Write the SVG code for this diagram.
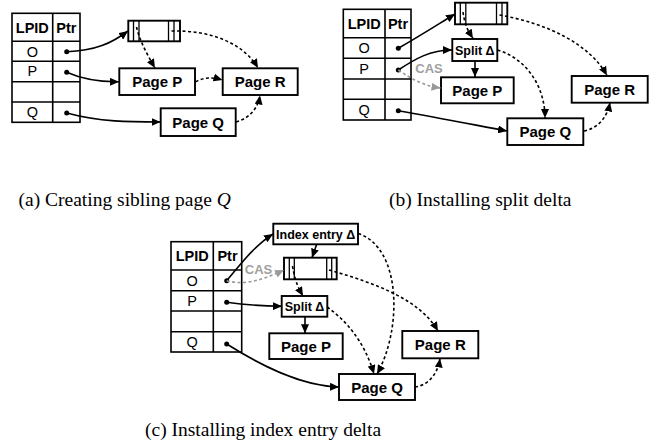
<svg xmlns="http://www.w3.org/2000/svg" width="657" height="443" viewBox="0 0 657 443">
<style>
.bg{fill:#fff}
.box{fill:#fff;stroke:#000;stroke-width:1.9}
.tl{fill:none;stroke:#000;stroke-width:1.6}
.rib{fill:none;stroke:#000;stroke-width:1.3}
.hdr{font-family:"Liberation Sans",Arial,sans-serif;font-weight:bold;font-size:14.5px;text-anchor:middle}
.cell{font-family:"Liberation Sans",Arial,sans-serif;font-size:14.5px;text-anchor:middle}
.pg{font-family:"Liberation Sans",Arial,sans-serif;font-weight:bold;font-size:15px;text-anchor:middle}
.dl{font-family:"Liberation Sans",Arial,sans-serif;font-weight:bold;font-size:12.5px;text-anchor:middle}
.cas{font-family:"Liberation Sans",Arial,sans-serif;font-weight:bold;font-size:13px;fill:#a0a0a0;text-anchor:middle}
.cap{font-family:"Liberation Serif","Times New Roman",serif;font-size:19.5px}
.s{fill:none;stroke:#000;stroke-width:1.6;marker-end:url(#ah)}
.d{fill:none;stroke:#000;stroke-width:1.6;stroke-dasharray:3,2.5;marker-end:url(#ah)}
.g{fill:none;stroke:#999;stroke-width:1.6;stroke-dasharray:3,2.5;marker-end:url(#ahg)}
.dot{fill:#000}
</style>
<defs>
<marker id="ah" markerUnits="userSpaceOnUse" markerWidth="10" markerHeight="8" refX="9" refY="4" orient="auto">
<path d="M0,0 L9,4 L0,8 z" fill="#000"/>
</marker>
<marker id="ahg" markerUnits="userSpaceOnUse" markerWidth="10" markerHeight="8" refX="9" refY="4" orient="auto">
<path d="M0,0 L9,4 L0,8 z" fill="#999"/>
</marker>
</defs>
<rect class="bg" x="0" y="0" width="657" height="443"/>

<!-- ============ Panel (a) ============ -->
<g id="a-table">
<rect class="tl" x="12" y="13.3" width="68" height="109"/>
<line class="tl" x1="52.7" y1="13.3" x2="52.7" y2="122.3"/>
<line class="tl" x1="12" y1="41.3" x2="80" y2="41.3"/>
<line class="tl" x1="12" y1="61.3" x2="80" y2="61.3"/>
<line class="tl" x1="12" y1="81.7" x2="80" y2="81.7"/>
<line class="tl" x1="12" y1="102" x2="80" y2="102"/>
<text class="hdr" x="32.3" y="32.5">LPID</text>
<text class="hdr" x="66.3" y="32.5">Ptr</text>
<text class="cell" x="32.3" y="56.5">O</text>
<text class="cell" x="32.3" y="76">P</text>
<text class="cell" x="32.3" y="117">Q</text>
<circle class="dot" cx="66.7" cy="51.7" r="2.5"/>
<circle class="dot" cx="66.7" cy="72.3" r="2.5"/>
<circle class="dot" cx="66.7" cy="113" r="2.5"/>
</g>
<g id="a-base">
<rect class="box" x="128.3" y="20.7" width="51.7" height="20.6"/>
<line class="rib" x1="133.5" y1="20.7" x2="133.5" y2="41.3"/>
<line class="rib" x1="139" y1="20.7" x2="139" y2="41.3"/>
<line class="rib" x1="168.5" y1="20.7" x2="168.5" y2="41.3"/>
<line class="rib" x1="174" y1="20.7" x2="174" y2="41.3"/>
</g>
<g id="a-pageP"><rect class="box" x="119.3" y="68.3" width="75.7" height="26.7"/><text class="pg" x="157.2" y="87">Page P</text></g>
<g id="a-pageR"><rect class="box" x="222.7" y="68.3" width="75" height="26.7"/><text class="pg" x="260.2" y="87">Page R</text></g>
<g id="a-pageQ"><rect class="box" x="160.7" y="108.3" width="75" height="27.7"/><text class="pg" x="198.2" y="127.5">Page Q</text></g>
<g id="a-connectors">
<path class="s" d="M66.7,51.7 C95,51 112,43 128,31"/>
<path class="s" d="M66.7,72.3 C84,80 100,82 119,81.7"/>
<path class="s" d="M66.7,113 C100,122 130,122 160.5,122"/>
<path class="d" d="M136.5,27 C140,42 148,56 155,68"/>
<path class="d" d="M171.5,31 C212,30 244,44 258,68"/>
<path class="d" d="M195.5,81.7 C205,77 212,77 222.5,80"/>
<path class="d" d="M236,122 C250,118 258,108 260,95.5"/>
</g>

<!-- ============ Panel (b) ============ -->
<g id="b-table">
<rect class="tl" x="343.3" y="9.3" width="67.7" height="110.7"/>
<line class="tl" x1="385" y1="9.3" x2="385" y2="120"/>
<line class="tl" x1="343.3" y1="37.7" x2="411" y2="37.7"/>
<line class="tl" x1="343.3" y1="58.3" x2="411" y2="58.3"/>
<line class="tl" x1="343.3" y1="79" x2="411" y2="79"/>
<line class="tl" x1="343.3" y1="99.3" x2="411" y2="99.3"/>
<text class="hdr" x="364.2" y="28.7">LPID</text>
<text class="hdr" x="398" y="28.7">Ptr</text>
<text class="cell" x="364.2" y="53.2">O</text>
<text class="cell" x="364.2" y="73.7">P</text>
<text class="cell" x="364.2" y="114.7">Q</text>
<circle class="dot" cx="398.3" cy="48.3" r="2.5"/>
<circle class="dot" cx="398.3" cy="70" r="2.5"/>
<circle class="dot" cx="398.3" cy="110.7" r="2.5"/>
</g>
<g id="b-base">
<rect class="box" x="455" y="2.7" width="52.3" height="21.6"/>
<line class="rib" x1="460.3" y1="2.7" x2="460.3" y2="24.3"/>
<line class="rib" x1="465.8" y1="2.7" x2="465.8" y2="24.3"/>
<line class="rib" x1="496.5" y1="2.7" x2="496.5" y2="24.3"/>
<line class="rib" x1="502" y1="2.7" x2="502" y2="24.3"/>
</g>
<g id="b-split"><rect class="box" x="452.3" y="39" width="45" height="22"/><text class="dl" x="474.8" y="54.5">Split Δ</text></g>
<g id="b-pageP"><rect class="box" x="441" y="77.3" width="72.7" height="26"/><text class="pg" x="477.3" y="95.8">Page P</text></g>
<g id="b-pageR"><rect class="box" x="571.7" y="76" width="76" height="26.7"/><text class="pg" x="609.7" y="94.8">Page R</text></g>
<g id="b-pageQ"><rect class="box" x="507.3" y="118.3" width="76" height="26.7"/><text class="pg" x="545.3" y="137.2">Page Q</text></g>
<text class="cas" x="429" y="73">CAS</text>
<g id="b-connectors">
<path class="s" d="M398.3,48.3 C420,36 437,25 455,14"/>
<path class="s" d="M398.3,70 C415,59 430,50 452,50"/>
<path class="g" d="M398.3,70 C413,80 425,86 440.5,88"/>
<path class="s" d="M398.3,110.7 C440,118 480,126 507,131"/>
<path class="d" d="M463,12 C465,27 469,32 473,38.5"/>
<path class="d" d="M499.5,15 C550,24 590,45 607,75.5"/>
<path class="s" d="M475,61 L475,77"/>
<path class="d" d="M497.5,50 C525,58 545,85 545,118"/>
<path class="d" d="M584,131 C598,128 607,118 610,102.5"/>
</g>

<!-- ============ Panel (c) ============ -->
<g id="c-table">
<rect class="tl" x="171" y="241.7" width="70.7" height="110.3"/>
<line class="tl" x1="213.3" y1="241.7" x2="213.3" y2="352"/>
<line class="tl" x1="171" y1="270" x2="241.7" y2="270"/>
<line class="tl" x1="171" y1="290.7" x2="241.7" y2="290.7"/>
<line class="tl" x1="171" y1="311" x2="241.7" y2="311"/>
<line class="tl" x1="171" y1="331.7" x2="241.7" y2="331.7"/>
<text class="hdr" x="192.2" y="261">LPID</text>
<text class="hdr" x="227.5" y="261">Ptr</text>
<text class="cell" x="192.2" y="285.5">O</text>
<text class="cell" x="192.2" y="305.8">P</text>
<text class="cell" x="192.2" y="346.8">Q</text>
<circle class="dot" cx="226.7" cy="280.7" r="2.5"/>
<circle class="dot" cx="226.7" cy="302.3" r="2.5"/>
<circle class="dot" cx="226.7" cy="344" r="2.5"/>
</g>
<g id="c-index"><rect class="box" x="273.3" y="223.7" width="84.7" height="20.6"/><text class="dl" x="315.7" y="238.5">Index entry Δ</text></g>
<g id="c-base">
<rect class="box" x="284" y="257.7" width="52.7" height="21.6"/>
<line class="rib" x1="289.3" y1="257.7" x2="289.3" y2="279.3"/>
<line class="rib" x1="294.3" y1="257.7" x2="294.3" y2="279.3"/>
<line class="rib" x1="326.7" y1="257.7" x2="326.7" y2="279.3"/>
<line class="rib" x1="331.7" y1="257.7" x2="331.7" y2="279.3"/>
</g>
<g id="c-split"><rect class="box" x="281.7" y="296" width="45.6" height="20.7"/><text class="dl" x="304.5" y="310.8">Split Δ</text></g>
<g id="c-pageP"><rect class="box" x="269.3" y="333.3" width="73.4" height="25.7"/><text class="pg" x="306" y="351.5">Page P</text></g>
<g id="c-pageR"><rect class="box" x="402.3" y="331" width="76" height="27.3"/><text class="pg" x="440.3" y="350">Page R</text></g>
<g id="c-pageQ"><rect class="box" x="339" y="374" width="76" height="26"/><text class="pg" x="377" y="392.5">Page Q</text></g>
<text class="cas" x="258.5" y="274">CAS</text>
<g id="c-connectors">
<path class="s" d="M226.7,280.7 C240,265 254,246 273,234"/>
<path class="g" d="M226.7,280.7 C245,286 265,279 284,270"/>
<path class="s" d="M316.7,244.3 L312,257.7"/>
<path class="s" d="M226.7,302.3 C245,305 265,306 282,306.3"/>
<path class="s" d="M226.7,344 C260,365 300,386 339,387"/>
<path class="d" d="M292.5,266 C295,282 299,289 303,296"/>
<path class="d" d="M329,270 C378,284 420,300 438,331"/>
<path class="d" d="M358.3,233.5 C402,248 402,330 377,374"/>
<path class="d" d="M327.3,307 C345,320 364,340 374,374"/>
<path class="s" d="M305,316.7 L305,333.3"/>
<path class="d" d="M415,387 C430,385 438,372 440,358.5"/>
</g>

<!-- captions -->
<text class="cap" x="18.5" y="206">(a) Creating sibling page <tspan font-style="italic">Q</tspan></text>
<text class="cap" x="389" y="206">(b) Installing split delta</text>
<text class="cap" x="145" y="436">(c) Installing index entry delta</text>
</svg>
